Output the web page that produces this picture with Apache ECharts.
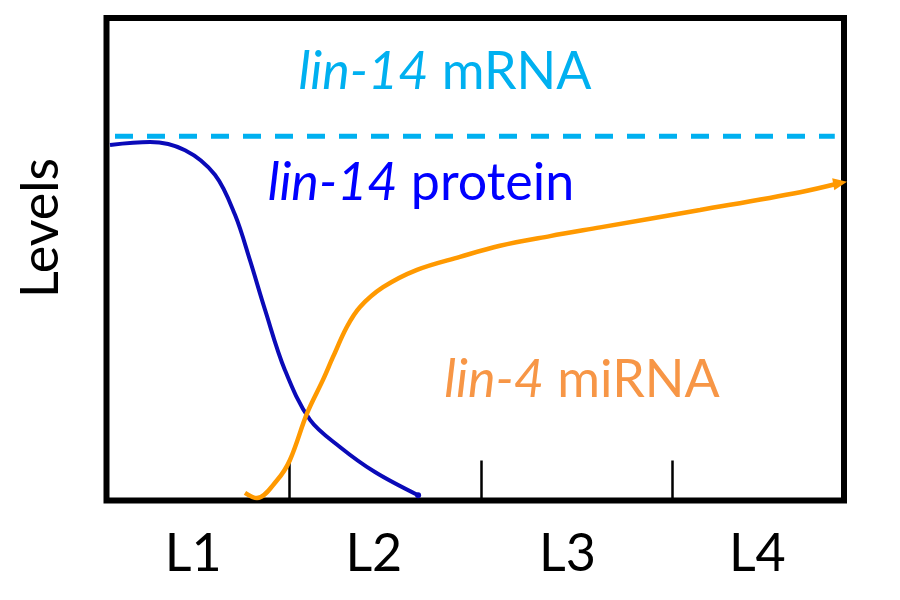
<!DOCTYPE html>
<html>
<head>
<meta charset="utf-8">
<script src="https://cdn.jsdelivr.net/npm/echarts@6/dist/echarts.min.js"></script>
<style>html,body{margin:0;padding:0;background:#fff;}#c{width:900px;height:600px;}</style>
</head>
<body>
<div id="c"></div>
<script>
// Stage axis (x in stage units, 0..4)
var stageLabels = ['L1', 'L2', 'L3', 'L4'];
var stageLabelX = [0.47, 1.45, 2.5, 3.53];
var stageBoundaries = [0.99, 2.03, 3.07];

// lin-14 mRNA (constant, dashed)
var mrnaX = [0.046, 3.95];
var mrnaY = [75.5, 75.5];

// lin-14 protein
var proteinX = [0.019, 0.236, 0.426, 0.588, 0.697, 0.778, 0.860, 0.968, 1.104, 1.266, 1.456, 1.690];
var proteinY = [73.7, 74.3, 72.6, 67.5, 59.2, 49.8, 39.5, 27.0, 16.7, 11.1, 5.9, 1.1];

// lin-4 miRNA
var mirnaX = [0.751, 0.816, 0.925, 0.995, 1.088, 1.174, 1.228, 1.304, 1.375, 1.500, 1.684, 1.917, 2.134, 2.406, 2.677, 3.219, 3.762, 3.979];
var mirnaY = [1.6, 0.5, 4.2, 8.4, 18.1, 25.0, 29.7, 36.0, 40.1, 44.2, 47.8, 50.5, 52.8, 54.8, 56.6, 60.2, 63.9, 65.8];

function pairs(xs, ys) { return xs.map(function (x, i) { return [x, ys[i]]; }); }

var FONT = 'Lato';
var FS = 52;

var mirnaData = pairs(mirnaX, mirnaY).map(function (p, i, arr) {
  if (i === arr.length - 1) {
    return { value: p, symbol: 'triangle', symbolSize: [12, 14], symbolRotate: -80, itemStyle: { color: '#FF9900' } };
  }
  return { value: p, symbol: 'none' };
});
var proteinData = pairs(proteinX, proteinY).map(function (p, i, arr) {
  if (i === arr.length - 1) {
    return { value: p, symbol: 'circle', symbolSize: 6, itemStyle: { color: '#0A0AB8' } };
  }
  return { value: p, symbol: 'none' };
});

function richText(it, rest, color) {
  return {
    text: '{i|' + it + '}{n| ' + rest + '}', align: 'center', verticalAlign: 'middle', fill: color,
    rich: {
      i: { fontFamily: FONT, fontSize: FS, fontStyle: 'italic', fill: color },
      n: { fontFamily: FONT, fontSize: FS, fill: color }
    }
  };
}

var chart = echarts.init(document.getElementById('c'));
chart.setOption({
  animation: false,
  backgroundColor: '#ffffff',
  grid: { left: 106.5, right: 56, top: 18, bottom: 99.5, show: true, borderColor: '#000', borderWidth: 6, backgroundColor: 'transparent' },
  xAxis: {
    type: 'value', min: 0, max: 4,
    axisLine: { show: false },
    splitLine: { show: false },
    axisTick: { show: true, inside: true, length: 40, customValues: stageBoundaries, lineStyle: { color: '#000', width: 2.5 } },
    axisLabel: {
      show: true, customValues: stageLabelX, margin: 28,
      fontFamily: FONT, fontSize: FS, color: '#000',
      formatter: function (v) {
        var i = stageLabelX.indexOf(v);
        return i >= 0 ? stageLabels[i] : '';
      }
    }
  },
  yAxis: {
    type: 'value', min: 0, max: 100,
    axisLine: { show: false }, axisTick: { show: false }, axisLabel: { show: false }, splitLine: { show: false }
  },
  series: [
    {
      name: 'lin-14 mRNA', type: 'line', data: pairs(mrnaX, mrnaY), symbol: 'none',
      lineStyle: { color: '#00B0F0', width: 5, type: [18, 14] }, z: 3
    },
    {
      name: 'lin-14 protein', type: 'line', data: proteinData, smooth: 0.35,
      lineStyle: { color: '#0A0AB8', width: 4 }, z: 4
    },
    {
      name: 'lin-4 miRNA', type: 'line', data: mirnaData, smooth: 0.35,
      lineStyle: { color: '#FF9900', width: 4.5 }, z: 5
    }
  ],
  graphic: [
    { type: 'text', x: 41, y: 228, rotation: Math.PI / 2, style: { text: 'Levels', align: 'center', verticalAlign: 'middle', fill: '#000', fontFamily: FONT, fontSize: FS } },
    { type: 'text', x: 445, y: 72, style: richText('lin-14', 'mRNA', '#00B0F0') },
    { type: 'text', x: 421, y: 183, style: richText('lin-14', 'protein', '#0000FF') },
    { type: 'text', x: 582, y: 380, style: richText('lin-4', 'miRNA', '#F79646') }
  ]
});
</script>
</body>
</html>
